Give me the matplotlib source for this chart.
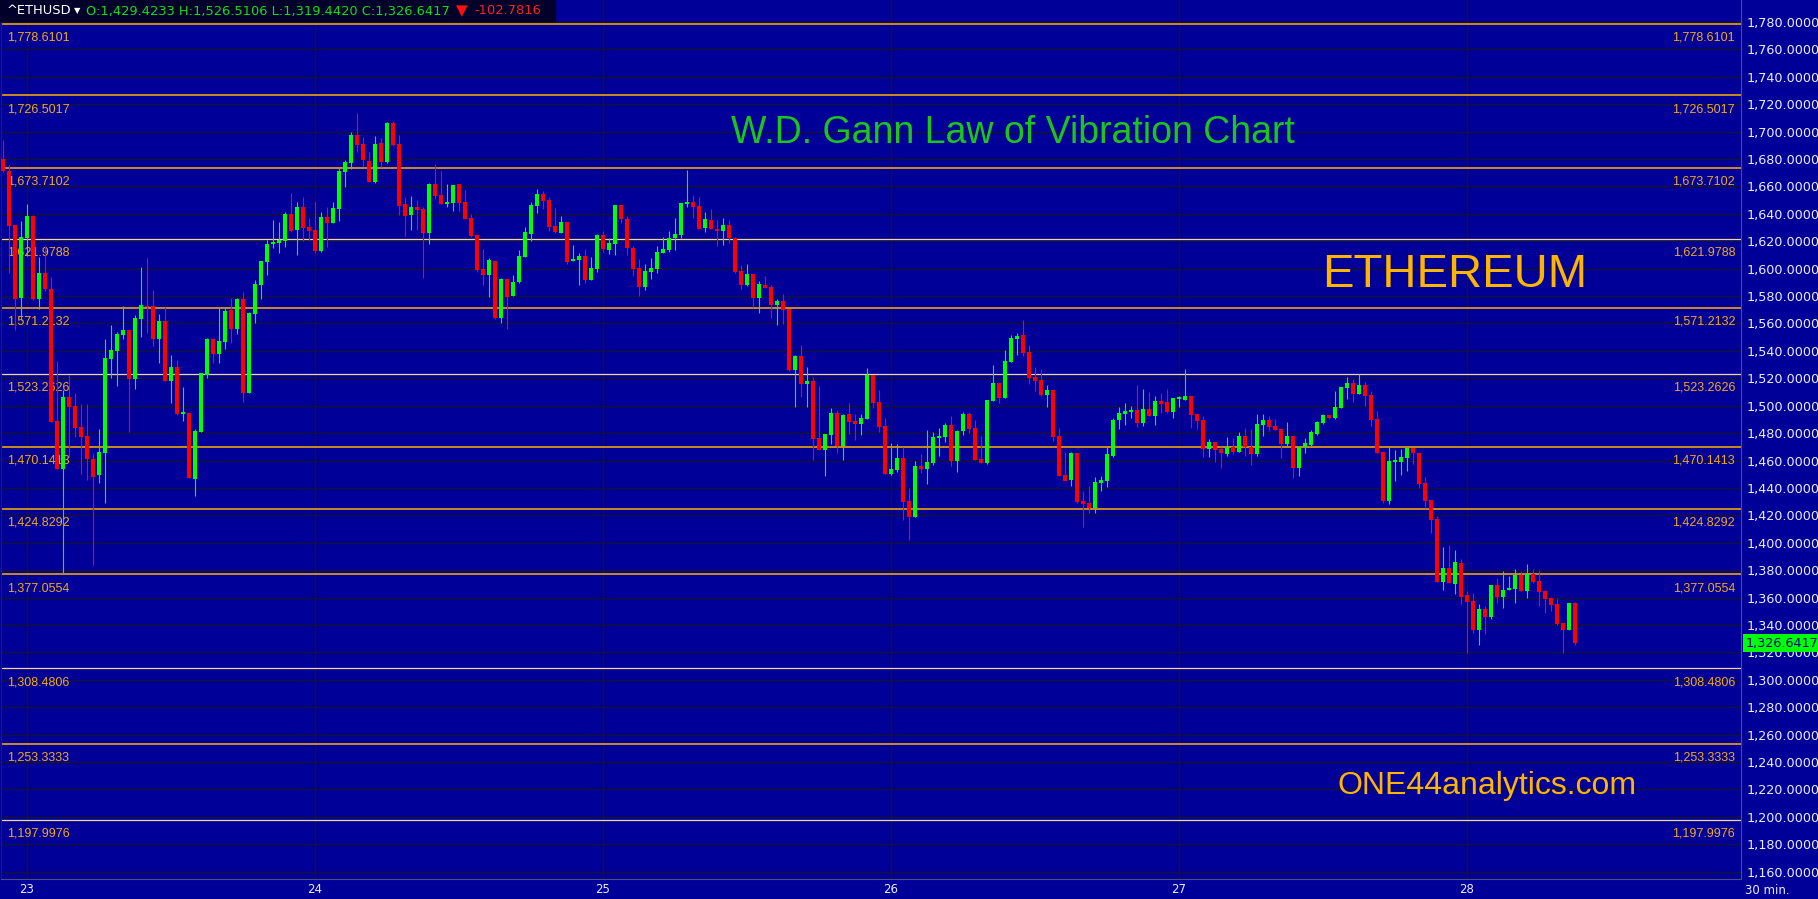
import matplotlib
matplotlib.use("Agg")
import matplotlib.pyplot as plt
from matplotlib.patches import Rectangle
from matplotlib.ticker import FuncFormatter

# 30 min candles, ETHUSD (index 0 = first candle on the left)
opens = [
    1679.7, 1671.4, 1631.6, 1578.8, 1622.1, 1638.4, 1577.8, 1596.8, 1585.1, 1488.8,
    1453.5, 1506.3, 1500.0, 1484.2, 1477.9, 1461.1, 1449.4, 1465.7, 1534.3, 1540.1,
    1551.8, 1555.2, 1519.7, 1563.5, 1572.9, 1572.5, 1548.7, 1561.8, 1518.2, 1528.2,
    1493.9, 1494.4, 1446.5, 1481.0, 1522.4, 1548.6, 1537.7, 1546.7, 1569.8, 1555.9,
    1577.6, 1509.0, 1567.1, 1588.3, 1604.8, 1617.9, 1618.9, 1620.4, 1639.8, 1628.2,
    1644.7, 1630.3, 1628.2, 1612.8, 1637.6, 1633.5, 1643.7, 1670.7, 1677.3, 1697.5,
    1690.9, 1678.5, 1663.4, 1691.6, 1678.0, 1706.2, 1690.9, 1647.1, 1639.1, 1644.9,
    1643.7, 1626.0, 1661.7, 1653.7, 1647.1, 1648.1, 1661.7, 1648.6, 1636.9, 1624.5,
    1599.7, 1595.3, 1605.5, 1563.9, 1592.4, 1580.0, 1590.2, 1608.5, 1625.2, 1645.7,
    1654.4, 1650.1, 1631.1, 1626.0, 1634.0, 1605.5, 1606.3, 1609.2, 1591.7, 1599.7,
    1624.5, 1613.8, 1618.2, 1646.4, 1636.2, 1615.2, 1600.4, 1586.8, 1597.7, 1599.9,
    1611.6, 1613.8, 1622.1, 1624.5, 1647.1, 1648.6, 1645.6, 1629.6, 1635.4, 1628.9,
    1627.4, 1631.8, 1622.3, 1598.2, 1588.0, 1596.0, 1578.8, 1588.0, 1586.5, 1573.7,
    1576.3, 1570.5, 1526.0, 1536.2, 1516.0, 1518.0, 1476.4, 1467.9, 1478.8, 1494.6,
    1470.8, 1493.9, 1488.8, 1486.8, 1490.5, 1522.3, 1502.6, 1485.1, 1450.4, 1453.1,
    1461.8, 1430.5, 1418.8, 1456.0, 1453.8, 1458.2, 1476.4, 1477.2, 1485.9, 1459.7,
    1481.5, 1494.0, 1483.7, 1461.1, 1458.2, 1503.4, 1516.6, 1505.6, 1531.9, 1548.7,
    1551.6, 1539.2, 1520.9, 1518.8, 1507.8, 1511.5, 1477.9, 1449.4, 1445.8, 1465.5,
    1430.5, 1429.0, 1425.4, 1443.6, 1445.1, 1463.3, 1489.6, 1494.0, 1495.4, 1496.9,
    1487.4, 1497.6, 1492.5, 1503.4, 1502.7, 1495.4, 1504.9, 1504.2, 1507.1, 1494.0,
    1489.6, 1468.4, 1473.2, 1468.4, 1464.7, 1470.1, 1466.2, 1477.9, 1470.1, 1464.7,
    1485.9, 1489.5, 1485.2, 1483.0, 1472.0, 1477.9, 1454.8, 1469.8, 1471.3, 1479.3,
    1487.3, 1493.2, 1491.0, 1498.3, 1512.9, 1516.5, 1508.7, 1515.3, 1507.8, 1490.3,
    1466.2, 1430.4, 1459.1, 1458.9, 1461.8, 1469.1, 1465.5, 1443.6, 1431.2, 1417.3,
    1371.3, 1381.5, 1369.9, 1385.2, 1361.9, 1357.5, 1336.3, 1351.6, 1345.8, 1369.1,
    1360.4, 1365.5, 1366.2, 1376.4, 1365.0, 1377.2, 1372.1, 1364.8, 1359.7, 1355.3,
    1341.4, 1336.3, 1356.0,
]
highs = [
    1693.8, 1675.6, 1631.6, 1634.7, 1647.1, 1639.1, 1608.7, 1616.5, 1593.9, 1532.3,
    1511.4, 1522.1, 1509.0, 1501.2, 1501.2, 1465.2, 1483.0, 1548.9, 1558.6, 1553.7,
    1572.7, 1555.2, 1566.1, 1601.4, 1607.7, 1584.4, 1566.9, 1571.7, 1536.7, 1533.3,
    1513.6, 1494.4, 1483.0, 1523.6, 1549.1, 1549.6, 1571.2, 1571.2, 1578.5, 1578.5,
    1582.7, 1568.3, 1591.4, 1605.8, 1620.9, 1635.4, 1634.0, 1641.3, 1654.9, 1648.6,
    1652.0, 1636.9, 1649.1, 1641.3, 1644.9, 1648.6, 1673.2, 1679.2, 1699.7, 1713.5,
    1696.0, 1685.1, 1696.7, 1695.3, 1707.0, 1707.7, 1697.5, 1652.2, 1653.0, 1650.1,
    1645.2, 1662.4, 1676.3, 1671.2, 1661.7, 1661.0, 1661.7, 1657.3, 1639.8, 1624.5,
    1614.3, 1607.7, 1605.5, 1593.4, 1592.4, 1595.3, 1613.6, 1630.3, 1648.6, 1658.1,
    1656.6, 1652.2, 1644.2, 1638.4, 1634.0, 1617.2, 1611.4, 1614.3, 1608.5, 1625.2,
    1627.4, 1622.1, 1646.4, 1646.4, 1638.3, 1616.5, 1607.0, 1603.3, 1607.7, 1616.5,
    1623.0, 1627.4, 1636.9, 1647.8, 1671.9, 1653.7, 1652.2, 1641.3, 1643.5, 1635.4,
    1636.9, 1635.4, 1623.0, 1602.6, 1603.3, 1596.0, 1590.9, 1594.6, 1588.0, 1577.8,
    1581.4, 1570.5, 1536.9, 1544.2, 1528.2, 1520.9, 1514.3, 1479.3, 1498.3, 1496.8,
    1493.9, 1501.9, 1493.9, 1493.9, 1527.4, 1522.3, 1511.4, 1491.2, 1472.7, 1472.1,
    1470.1, 1440.0, 1459.7, 1464.8, 1482.3, 1480.8, 1483.7, 1487.4, 1492.5, 1482.3,
    1495.4, 1495.4, 1489.6, 1477.9, 1504.2, 1529.7, 1516.6, 1540.6, 1551.6, 1553.0,
    1562.5, 1544.3, 1528.2, 1526.8, 1515.1, 1512.2, 1483.7, 1466.2, 1466.2, 1465.5,
    1437.8, 1441.4, 1448.0, 1448.7, 1469.9, 1491.0, 1499.1, 1502.0, 1499.8, 1515.1,
    1512.2, 1510.0, 1507.1, 1509.3, 1512.2, 1505.6, 1507.1, 1526.8, 1507.1, 1494.0,
    1492.5, 1475.7, 1473.2, 1470.1, 1476.9, 1476.4, 1480.8, 1483.7, 1483.0, 1493.9,
    1493.9, 1492.4, 1490.3, 1483.0, 1488.1, 1477.9, 1470.6, 1476.4, 1482.2, 1488.8,
    1493.9, 1493.2, 1510.7, 1513.6, 1520.9, 1519.4, 1523.1, 1517.3, 1510.7, 1496.1,
    1466.2, 1469.8, 1467.6, 1468.4, 1469.1, 1469.1, 1466.2, 1447.9, 1431.2, 1419.5,
    1396.9, 1398.3, 1394.7, 1388.1, 1364.8, 1363.3, 1355.3, 1353.8, 1369.1, 1374.3,
    1379.4, 1375.7, 1380.8, 1379.4, 1384.5, 1380.8, 1380.1, 1365.5, 1360.4, 1359.7,
    1341.4, 1356.0, 1356.7,
]
lows = [
    1670.7, 1596.5, 1555.2, 1562.5, 1609.4, 1577.1, 1570.5, 1583.9, 1488.3, 1453.5,
    1378.1, 1462.8, 1477.4, 1449.9, 1445.8, 1383.5, 1443.8, 1429.2, 1520.4, 1514.6,
    1548.9, 1480.5, 1511.9, 1549.8, 1553.2, 1543.5, 1530.9, 1518.2, 1501.7, 1493.2,
    1489.0, 1447.5, 1434.1, 1481.0, 1519.9, 1530.9, 1530.9, 1541.6, 1545.9, 1552.3,
    1502.9, 1509.0, 1560.5, 1578.1, 1595.6, 1615.0, 1611.1, 1616.0, 1626.9, 1610.2,
    1620.4, 1620.9, 1611.1, 1612.1, 1616.0, 1633.5, 1635.0, 1659.8, 1672.4, 1685.3,
    1674.9, 1663.4, 1662.7, 1673.9, 1677.3, 1689.4, 1639.1, 1624.0, 1628.4, 1628.4,
    1593.4, 1618.2, 1650.8, 1647.1, 1645.2, 1642.3, 1642.3, 1636.4, 1623.3, 1597.8,
    1588.0, 1579.5, 1563.2, 1560.3, 1555.9, 1580.0, 1589.5, 1608.5, 1620.1, 1640.6,
    1643.5, 1627.4, 1626.0, 1626.0, 1603.3, 1605.5, 1588.0, 1589.5, 1591.7, 1597.5,
    1612.1, 1610.9, 1610.1, 1633.2, 1610.1, 1594.8, 1580.2, 1584.6, 1592.6, 1597.0,
    1611.6, 1612.3, 1613.8, 1622.3, 1645.2, 1636.9, 1628.9, 1626.7, 1628.9, 1616.5,
    1617.2, 1618.6, 1597.0, 1585.1, 1587.5, 1572.2, 1567.8, 1586.1, 1564.2, 1559.1,
    1559.8, 1525.3, 1499.2, 1506.5, 1499.2, 1460.6, 1467.9, 1448.9, 1472.2, 1465.7,
    1460.6, 1479.5, 1475.2, 1478.8, 1490.5, 1498.5, 1481.0, 1450.4, 1449.6, 1451.6,
    1416.9, 1402.3, 1418.8, 1450.9, 1442.9, 1456.7, 1463.3, 1473.5, 1456.0, 1451.6,
    1478.6, 1480.1, 1460.4, 1458.2, 1457.5, 1503.4, 1502.0, 1505.6, 1531.9, 1537.0,
    1536.3, 1515.8, 1510.7, 1507.1, 1499.1, 1474.2, 1448.7, 1445.1, 1441.4, 1429.0,
    1411.5, 1421.7, 1421.7, 1437.8, 1440.7, 1462.6, 1483.0, 1485.9, 1491.0, 1484.5,
    1485.2, 1492.5, 1485.9, 1494.7, 1494.7, 1491.0, 1499.1, 1504.2, 1483.7, 1483.0,
    1462.6, 1462.6, 1459.1, 1454.8, 1463.3, 1464.7, 1466.2, 1463.3, 1456.7, 1463.3,
    1477.9, 1481.5, 1482.2, 1461.8, 1470.6, 1447.5, 1448.9, 1465.5, 1470.6, 1478.6,
    1486.6, 1490.3, 1490.3, 1498.3, 1504.9, 1502.7, 1508.7, 1499.7, 1485.2, 1465.5,
    1429.0, 1428.2, 1445.3, 1449.4, 1452.6, 1457.4, 1439.9, 1425.3, 1407.1, 1371.3,
    1365.5, 1370.6, 1362.6, 1355.3, 1319.5, 1334.1, 1325.4, 1333.4, 1344.3, 1356.0,
    1352.4, 1365.5, 1356.0, 1365.0, 1359.7, 1370.6, 1353.8, 1348.7, 1350.2, 1340.0,
    1319.5, 1336.3, 1325.4,
]
closes = [
    1671.4, 1631.1, 1577.8, 1623.0, 1638.4, 1577.8, 1596.8, 1585.4, 1488.3, 1453.5,
    1506.3, 1498.8, 1483.9, 1477.4, 1460.8, 1448.2, 1466.4, 1535.0, 1540.6, 1552.3,
    1555.2, 1519.2, 1563.9, 1573.4, 1571.7, 1548.6, 1561.8, 1518.2, 1528.2, 1493.9,
    1494.4, 1447.5, 1481.5, 1523.6, 1548.6, 1537.7, 1547.2, 1569.3, 1555.9, 1577.6,
    1509.0, 1567.6, 1588.8, 1605.3, 1617.9, 1619.4, 1620.9, 1639.8, 1627.7, 1644.7,
    1629.9, 1627.4, 1613.1, 1637.6, 1633.5, 1644.2, 1671.2, 1677.8, 1697.5, 1690.2,
    1679.2, 1663.4, 1690.9, 1678.0, 1706.2, 1690.2, 1645.9, 1638.6, 1644.9, 1642.7,
    1626.0, 1661.7, 1653.0, 1647.1, 1648.6, 1661.0, 1648.1, 1636.4, 1624.0, 1599.0,
    1595.3, 1606.3, 1563.9, 1592.4, 1579.3, 1590.2, 1609.2, 1626.7, 1646.4, 1654.4,
    1649.3, 1630.3, 1626.7, 1634.0, 1604.8, 1607.0, 1609.2, 1591.7, 1600.4, 1624.5,
    1614.3, 1618.6, 1646.4, 1636.2, 1615.2, 1599.9, 1586.8, 1598.2, 1600.4, 1612.1,
    1614.3, 1622.1, 1625.2, 1647.8, 1648.6, 1644.9, 1628.9, 1636.2, 1628.9, 1627.4,
    1631.8, 1622.3, 1597.7, 1588.0, 1596.0, 1578.8, 1588.7, 1586.1, 1573.7, 1576.3,
    1570.0, 1526.0, 1536.2, 1516.0, 1518.0, 1475.9, 1467.9, 1479.3, 1494.6, 1470.8,
    1493.2, 1488.3, 1486.8, 1491.0, 1522.3, 1502.2, 1484.6, 1450.4, 1453.8, 1461.8,
    1430.0, 1418.8, 1456.0, 1453.8, 1458.9, 1477.2, 1477.9, 1485.9, 1459.7, 1481.5,
    1494.0, 1483.0, 1460.4, 1458.2, 1504.2, 1516.6, 1505.6, 1532.6, 1549.4, 1550.9,
    1538.5, 1520.2, 1518.0, 1507.8, 1511.5, 1477.2, 1448.7, 1445.1, 1465.5, 1429.7,
    1428.3, 1425.4, 1444.3, 1445.8, 1464.8, 1489.6, 1494.7, 1496.1, 1496.9, 1487.4,
    1497.6, 1492.5, 1503.4, 1501.2, 1495.4, 1505.6, 1506.3, 1507.1, 1493.2, 1488.9,
    1468.4, 1473.5, 1467.6, 1465.5, 1470.1, 1466.2, 1477.9, 1470.1, 1464.7, 1486.6,
    1489.5, 1484.4, 1482.2, 1472.0, 1477.9, 1454.8, 1469.8, 1472.7, 1480.8, 1488.1,
    1493.2, 1491.0, 1499.0, 1513.6, 1516.5, 1508.7, 1515.3, 1507.0, 1489.5, 1465.5,
    1430.4, 1459.6, 1459.9, 1462.5, 1469.1, 1465.5, 1442.8, 1430.4, 1416.6, 1371.3,
    1381.5, 1370.6, 1385.9, 1360.4, 1356.7, 1336.3, 1351.6, 1345.8, 1369.1, 1360.4,
    1365.5, 1367.0, 1376.4, 1365.0, 1377.2, 1371.3, 1364.0, 1358.9, 1354.6, 1340.7,
    1336.3, 1356.0, 1326.6,
]

# day separators: candle index of 00:00 for each day
day_index = [4, 52, 100, 148, 196, 244]
day_labels = ["23", "24", "25", "26", "27", "28"]

# Gann vibration levels
gann_levels = [1778.6101, 1726.5017, 1673.7102, 1621.9788, 1571.2132, 1523.2626,
               1470.1413, 1424.8292, 1377.0554, 1308.4806, 1253.3333, 1197.9976]
gann_bright = [True, True, True, False, True, False,
               True, True, True, False, True, False]

last_price = 1326.6417

BG = "#000099"
W, H = 1818, 899

fig = plt.figure(figsize=(W / 100, H / 100), dpi=100, facecolor=BG)
ax = fig.add_axes([1 / W, 20 / H, 1740 / W, 879 / H])
ax.set_facecolor(BG)
ax.set_xlim(-0.3, 289.7)
ax.set_ylim(1154.7, 1796.0)

# grid
ax.set_yticks(range(1160, 1781, 20))
ax.yaxis.tick_right()
ax.yaxis.set_major_formatter(FuncFormatter(lambda v, p: f"{v:,.4f}"))
ax.tick_params(axis="y", length=0, pad=4, labelsize=9.2, labelcolor="#ECECFF")
ax.set_xticks(day_index)
ax.set_xticklabels(day_labels)
ax.tick_params(axis="x", length=0, pad=3, labelsize=8.5, labelcolor="#ECECFF")
ax.grid(True, color="#14142c", lw=1.0, zorder=0)
ax.set_axisbelow(True)
ax.spines["top"].set_visible(False)
ax.spines["right"].set_color("#505070")
ax.spines["bottom"].set_color("#505070")
ax.spines["left"].set_color("#202040")

# gann lines with labels on both sides
for lvl, bright in zip(gann_levels, gann_bright):
    if bright:
        ax.axhline(lvl, color="#FFB000", lw=1.1, zorder=1)
    else:
        ax.axhline(lvl, color="#F0D6A2", lw=0.9, zorder=1)
    txt = f"{lvl:,.4f}"
    ax.annotate(txt, xy=(0.0035, lvl), xycoords=("axes fraction", "data"),
                xytext=(0, -10), textcoords="offset points", ha="left", va="center",
                fontsize=9, family="Liberation Sans", color="#F2AA1C", zorder=2)
    ax.annotate(txt, xy=(0.9966, lvl), xycoords=("axes fraction", "data"),
                xytext=(0, -10), textcoords="offset points", ha="right", va="center",
                fontsize=9, family="Liberation Sans", color="#F2AA1C", zorder=2)

# candles
x = list(range(len(opens)))
colors = ["#00FF00" if c >= o else "#FF0000" for o, c in zip(opens, closes)]
ax.vlines(x, lows, highs, colors=colors, lw=0.8, zorder=3)
bottoms = [min(o, c) for o, c in zip(opens, closes)]
heights = [max(abs(c - o), 1.4) for o, c in zip(opens, closes)]
ax.bar(x, heights, bottom=bottoms, width=0.68, color=colors, linewidth=0, zorder=4)

# last price tag on the axis
ax.annotate(f"{last_price:,.4f}", xy=(1.0, last_price), xycoords=("axes fraction", "data"),
            xytext=(3, 0), textcoords="offset points", ha="left", va="center",
            fontsize=9.2, color="#000090", annotation_clip=False, zorder=10,
            bbox=dict(boxstyle="square,pad=0.2", fc="#00FF00", ec="none"))

# header bar
fig.patches.append(Rectangle((0, 1 - 21 / H), 555 / W, 21 / H, transform=fig.transFigure,
                             color="#00002A", zorder=5))
fig.text(7 / W, 1 - 11 / H, "^ETHUSD", color="white", fontsize=9.4, va="center", zorder=6)
fig.text(74 / W, 1 - 11 / H, "▼", color="white", fontsize=6, va="center", zorder=6)
fig.text(86 / W, 1 - 11 / H, "O:1,429.4233 H:1,526.5106 L:1,319.4420 C:1,326.6417",
         color="#10E010", fontsize=9.4, va="center", zorder=6)
fig.text(456 / W, 1 - 11 / H, "▼", color="#FF1010", fontsize=11, va="center", zorder=6)
fig.text(474 / W, 1 - 11 / H, "-102.7816", color="#FF2020", fontsize=9.4, va="center", zorder=6)

# chart titles
fig.text(1013 / W, 1 - 133 / H, "W.D. Gann Law of Vibration Chart", color="#1EC41E",
         fontsize=27, family="Liberation Sans", ha="center", va="center")
fig.text(1455 / W, 1 - 275 / H, "ETHEREUM", color="#FFB400",
         fontsize=34, family="Liberation Sans", ha="center", va="center")
fig.text(1487 / W, 1 - 786 / H, "ONE44analytics.com", color="#FFB400",
         fontsize=23, family="Liberation Sans", ha="center", va="center")

fig.text(1745 / W, 1 - 890 / H, "30 min.", color="#ECECFF", fontsize=8.5, va="center")

fig.savefig("out.png", dpi=100, facecolor=BG)
